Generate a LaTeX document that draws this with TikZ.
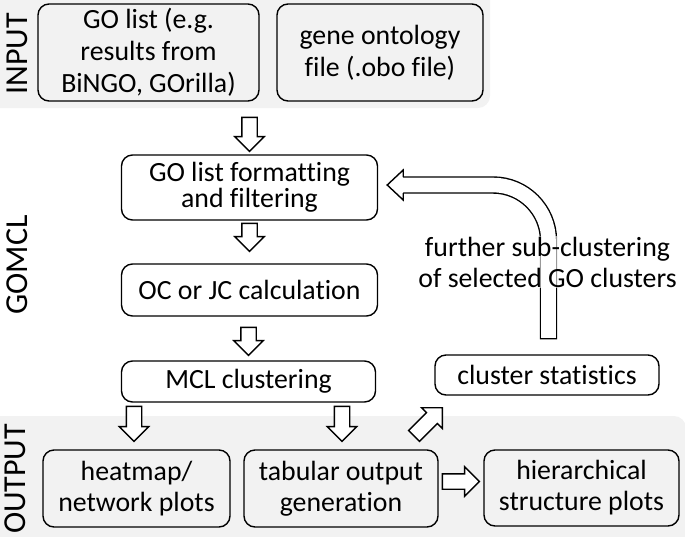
\documentclass[tikz,border=0pt]{standalone}
\usepackage{fontspec}
\setmainfont[Ligatures={NoCommon}]{Carlito}
\usetikzlibrary{shapes.arrows,calc}
\definecolor{bandgray}{HTML}{F2F2F2}
\newcommand{\tightlines}{\lineskiplimit=-30pt\relax}
\begin{document}
\begin{tikzpicture}[x=1pt,y=-1pt,
  box/.style={draw, line width=1.4pt, rounded corners=11pt, align=center, inner sep=0pt,
    font=\fontsize{27.8}{32}\selectfont},
  blk/.style={single arrow, draw, fill=white, line width=1.4pt, inner xsep=0pt, inner ysep=7pt,
    single arrow head extend=7pt, single arrow tip angle=90, outer sep=0pt},
  lbl/.style={rotate=90, font=\fontsize{32}{36}\selectfont, inner sep=0pt},
  note/.style={align=center, inner sep=1pt, fill=white, fill opacity=0.6, text opacity=1,
    font=\fontsize{27.8}{31}\selectfont}]
\useasboundingbox (0,0) rectangle (685,536);
% bands
\fill[bandgray, rounded corners=12pt] (-20,-20) rectangle (490,108);
\fill[bandgray, rounded corners=12pt] (-20,416) rectangle (686,560);
% labels
\node[lbl] (linput) at (17.5,54) {INPUT};
\node[lbl] (lgomcl) at (17.5,265) {GOMCL};
\node[lbl] (loutput) at (15,479) {OUTPUT};
% boxes
\node[box, minimum width=221pt, minimum height=97pt] (in1) at (148.5,52.5) {GO list (e.g.\\results from\\BiNGO, GOrilla)};
\node[box, minimum width=206pt, minimum height=97pt] (in2) at (380,52.5) {gene ontology\\file (.obo file)};
\node[box, minimum width=256pt, minimum height=65pt,
  font=\fontsize{27.8}{26}\selectfont\tightlines] (fmt) at (249.5,187.5) {GO list formatting\\and filtering};
\node[box, minimum width=256pt, minimum height=52pt] (oc) at (249.5,290) {OC or JC calculation};
\node[box, minimum width=254pt, minimum height=41pt] (mcl) at (248.5,381.5) {MCL clustering};
\node[box, minimum width=224pt, minimum height=40pt] (cs) at (547,375) {cluster statistics};
\node[box, minimum width=187pt, minimum height=77pt, font=\fontsize{27.8}{31}\selectfont] (hm) at (136.5,488.5) {heatmap/\\network plots};
\node[box, minimum width=194pt, minimum height=77pt, font=\fontsize{27.8}{31}\selectfont] (tab) at (341,488.5) {tabular output\\generation};
\node[box, minimum width=195pt, minimum height=76pt, font=\fontsize{27.8}{31}\selectfont] (hier) at (581.5,488) {hierarchical\\structure plots};
% straight block arrows
\node[blk, minimum height=34pt, rotate=-90, anchor=tip] (a1) at ($(fmt.north)+(0,-3)$) {};
\node[blk, minimum height=28pt, rotate=-90, anchor=tip] (a2) at ($(oc.north)+(0,-12)$) {};
\node[blk, minimum height=28pt, rotate=-90, anchor=tip] (a3) at ($(mcl.north)+(0,-5)$) {};
\node[blk, minimum height=35pt, rotate=-90, anchor=tip] (a4) at ($(hm.north)+(-2.5,-8)$) {};
\node[blk, minimum height=35pt, rotate=-90, anchor=tip] (a5) at ($(tab.north)+(1,-8)$) {};
\node[blk, minimum height=40pt, rotate=45, anchor=tip] (a6) at ($(cs.south west)+(8,12)$) {};
\node[blk, minimum height=37pt, anchor=tip] (a7) at ($(hier.west)+(-4,-6.5)$) {};
% curved feedback arrow
\coordinate (ct) at ($(cs.north)+(1.5,-15)$);
\coordinate (ctip) at ($(fmt.east)+(9,-2.5)$);
\coordinate (hb) at ($(ctip)+(16,0)$);
\draw[line width=17.4pt, rounded corners=55.5pt] (ct) |- (hb);
\draw[line width=14.6pt, white, rounded corners=55.5pt, shorten <=1.4pt] (ct) |- ($(hb)+(-1,0)$);
\filldraw[fill=white, line width=1.4pt, line join=miter]
  ($(hb)+(0,-8)$) -- ($(hb)+(0,-15)$) -- (ctip) -- ($(hb)+(0,15)$) -- ($(hb)+(0,8)$);
\node[note] (fnote) at (547.5,262) {further sub-clustering\\of selected GO clusters};
\end{tikzpicture}
\end{document}
